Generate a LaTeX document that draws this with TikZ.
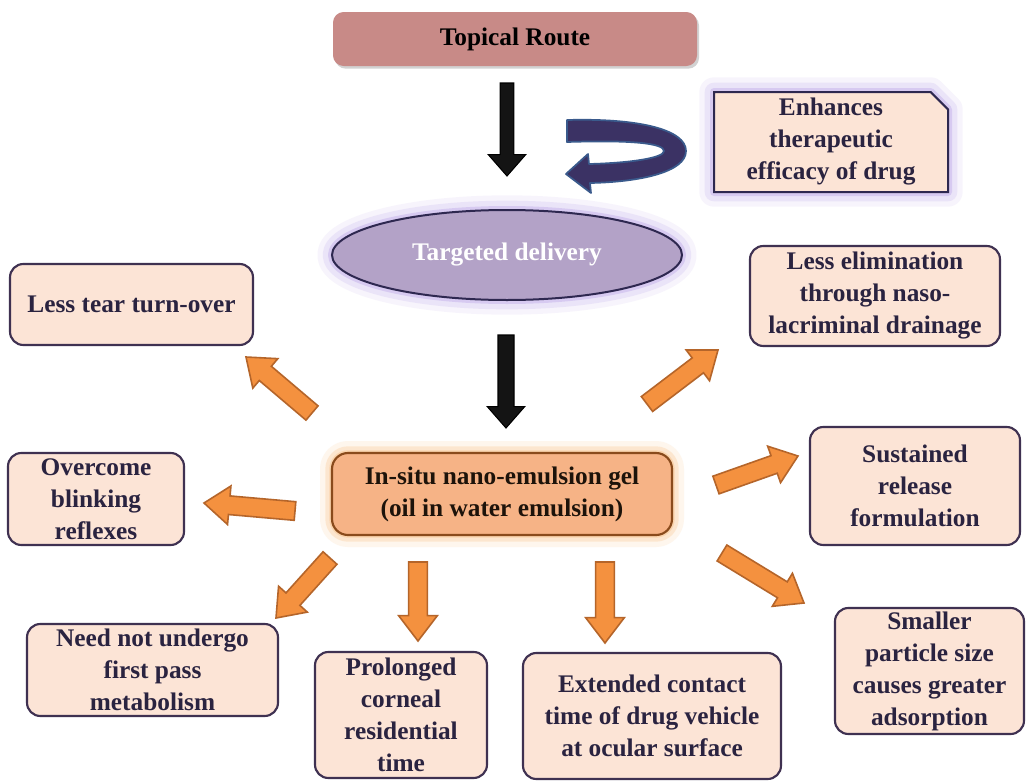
\documentclass[tikz,border=0pt]{standalone}
\usepackage{fontspec}
\setmainfont{Liberation Serif}
\usetikzlibrary{calc,shapes.geometric,shapes.misc,shadows}
\definecolor{peach}{HTML}{FCE4D6}
\definecolor{boxline}{HTML}{3F3151}
\definecolor{txt}{HTML}{2A2340}
\definecolor{rose}{HTML}{C88A87}
\definecolor{lav}{HTML}{B3A2C7}
\definecolor{lavline}{HTML}{2E2850}
\definecolor{glowp}{HTML}{B49CE6}
\definecolor{gel}{HTML}{F6B386}
\definecolor{gelline}{HTML}{8A4B1C}
\definecolor{glowo}{HTML}{FAC38C}
\definecolor{orarrow}{HTML}{F4913F}
\definecolor{orline}{HTML}{B5652A}
\definecolor{navy}{HTML}{3B3264}
\definecolor{navyline}{HTML}{3A5A8C}
% block arrow: #1 style, #2 start, #3 tip, #4 shaft half width, #5 head half width, #6 head length
\newcommand\blockarrow[6]{%
  \coordinate (nk) at ($(#3)!#6!(#2)$);
  \draw[#1] ($(#2)!#4!90:(#3)$) -- ($(nk)!#4!90:(#3)$) -- ($(nk)!#5!90:(#3)$) -- (#3)
    -- ($(nk)!#5!-90:(#3)$) -- ($(nk)!#4!-90:(#3)$) -- ($(#2)!#4!-90:(#3)$) -- cycle;}
\begin{document}
\begin{tikzpicture}[x=0.75pt,y=-0.75pt,
  every node/.style={font=\bfseries\fontsize{19}{24}\selectfont, text=txt, align=center, inner sep=0pt},
  sz/.style 2 args={minimum width=#1*0.75pt, minimum height=#2*0.75pt},
  box/.style={draw=boxline, fill=peach, line width=1.6pt, rounded corners=10pt},
  glowP/.style={preaction={draw=glowp, line width=22pt, draw opacity=0.10, line join=round},
                preaction={draw=glowp, line width=14pt, draw opacity=0.18, line join=round},
                preaction={draw=glowp, line width=6pt, draw opacity=0.35, line join=round}},
  glowO/.style={preaction={draw=glowo, line width=18pt, draw opacity=0.15, line join=round},
                preaction={draw=glowo, line width=10pt, draw opacity=0.3, line join=round},
                preaction={draw=glowo, line width=4pt, draw opacity=0.5, line join=round}},
  oarrow/.style={fill=orarrow, draw=orline, line width=1.2pt, line join=miter},
  karrow/.style={fill=black!92, draw=black, line width=0.8pt}]
\fill[white] (0,0) rectangle (1026,782);
\path[use as bounding box] (0,0) rectangle (1026,782);

% main flow
\node[fill=rose, rounded corners=8pt, sz={364}{54}, text=black,
  drop shadow={opacity=0.35, shadow xshift=1.5pt, shadow yshift=-2pt}] (top) at (515,39) {Topical Route};
\node[chamfered rectangle, chamfered rectangle corners=north east, chamfered rectangle xsep=10pt,
  draw=lavline, fill=peach, line width=1.5pt, sz={234}{100}, glowP] (enh) at (831,142)
  {Enhances\\therapeutic\\efficacy of drug};
\node[ellipse, draw=lavline, fill=lav, line width=1.5pt, sz={350}{90}, glowP, text=white] (tgt) at (507,255) {Targeted delivery};
\node[draw=gelline, fill=gel, line width=1.6pt, rounded corners=12pt, sz={340}{82}, glowO, text=black!85!brown] (gel) at (502,494)
  {In-situ nano-emulsion gel\\(oil in water emulsion)};

% outcome boxes
\node[box, sz={243}{81}] (tear) at (131.5,304.5) {Less tear turn-over};
\node[box, sz={250}{100}] (elim) at (875,296) {Less elimination\\through naso-\\lacriminal drainage};
\node[box, sz={176}{92}] (blink) at (96,499) {Overcome\\blinking\\reflexes};
\node[box, sz={210}{118}] (sust) at (915,486) {Sustained\\release\\formulation};
\node[box, sz={251}{92}] (fpm) at (152.5,670) {Need not undergo\\first pass\\metabolism};
\node[box, sz={172}{126}] (corn) at (401,715) {Prolonged\\corneal\\residential\\time};
\node[box, sz={258}{126}] (ext) at (652,716) {Extended contact\\time of drug vehicle\\at ocular surface};
\node[box, sz={189}{126}] (small) at (929.5,671) {Smaller\\particle size\\causes greater\\adsorption};

% black arrows
\coordinate (b1s) at (507,83);  \coordinate (b1t) at (507,176);
\coordinate (b2s) at (506,335); \coordinate (b2t) at (506,428);
\blockarrow{karrow}{b1s}{b1t}{5.2pt}{14pt}{16pt}
\blockarrow{karrow}{b2s}{b2t}{6pt}{14pt}{16pt}

% curved arrow
\draw[fill=navy, draw=navyline, line width=1.3pt, line join=round]
  (567,120) .. controls (640,118) and (686,130) .. (686,151)
  .. controls (686,172) and (640,182) .. (590,183) -- (591,193) -- (566,174) -- (588,154) -- (589,164)
  .. controls (630,163) and (664,158) .. (664,151)
  .. controls (664,143) and (630,140) .. (567,142) -- cycle;

% orange arrows
\coordinate (o1s) at (312,413); \coordinate (o1t) at (246,357);
\coordinate (o2s) at (647,404); \coordinate (o2t) at (718,350);
\coordinate (o3s) at (295,511); \coordinate (o3t) at (204,503);
\coordinate (o4s) at (716,485); \coordinate (o4t) at (798,456);
\coordinate (o5s) at (330,558); \coordinate (o5t) at (276,618);
\coordinate (o6s) at (418,562); \coordinate (o6t) at (418,641);
\coordinate (o7s) at (605,562); \coordinate (o7t) at (605,643);
\coordinate (o8s) at (722,553); \coordinate (o8t) at (804,603);
\foreach \i in {1,...,8}{\blockarrow{oarrow}{o\i s}{o\i t}{7pt}{14.5pt}{19pt}}
\end{tikzpicture}
\end{document}
